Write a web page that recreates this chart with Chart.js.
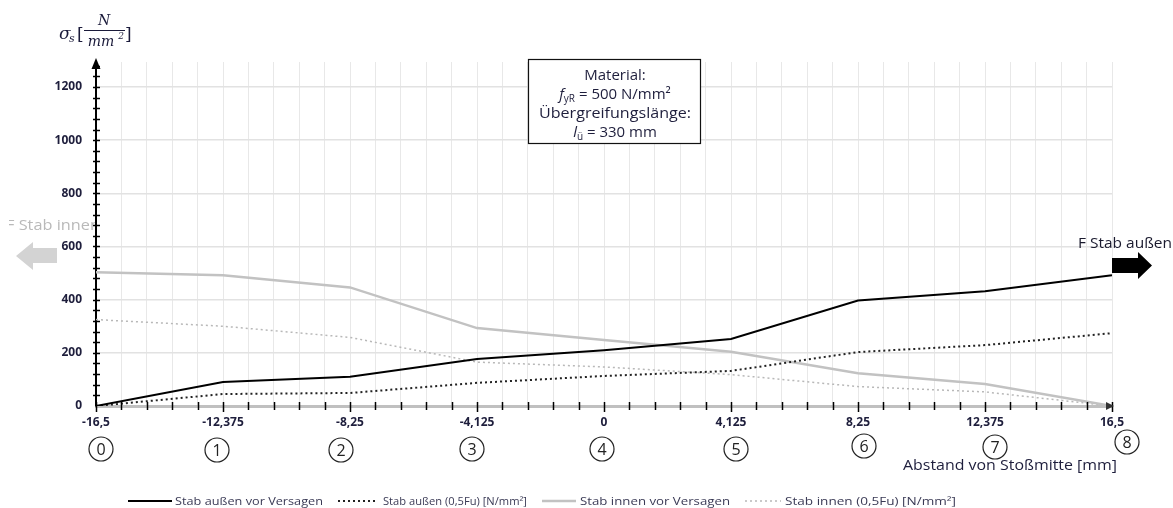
<!DOCTYPE html>
<html><head><meta charset="utf-8">
<script src="https://cdn.jsdelivr.net/npm/chart.js@4.4.0/dist/chart.umd.min.js"></script>
<style>html,body{margin:0;padding:0;background:#fff;overflow:hidden}#wrap{width:1173px;height:508px;position:relative}</style>
</head><body><div id="wrap"><canvas id="c" width="1173" height="508"></canvas></div>
<script>
// ---- data ----
const positions = [-16.5, -12.375, -8.25, -4.125, 0, 4.125, 8.25, 12.375, 16.5];
const pointNumbers = ['0', '1', '2', '3', '4', '5', '6', '7', '8'];
const outerFailure = [0, 90, 110, 177, 210, 252, 397, 432, 492];
const outerHalfFu = [0, 45, 49, 87, 113, 132, 203, 229, 274];
const innerFailure = [503, 492, 446, 293, 248, 204, 123, 83, 0];
const innerHalfFu = [325, 300, 258, 165, 147, 118, 73, 53, 0];
const yTickValues = [0, 200, 400, 600, 800, 1000, 1200];
const seriesNames = ['Stab außen vor Versagen', 'Stab außen (0,5Fu) [N/mm²]', 'Stab innen vor Versagen', 'Stab innen (0,5Fu) [N/mm²]'];
const xAxisTitle = 'Abstand von Stoßmitte [mm]';
const outerForceLabel = 'F Stab außen';
const innerForceLabel = 'F Stab innen';

// ---- styling constants ----
const circleDx = [5, -6, -9, -5, -2, 5, 6, 10, 15];
const circleY = [449, 450, 450, 449, 449, 449, 446, 447, 442];
const TXT = '#1e1e3c';

const fmt = v => String(v).replace('.', ',');
const toXY = arr => arr.map((v, i) => ({x: positions[i], y: v}));

function fitText(ctx, text, x, y, w, align) {
  const m = ctx.measureText(text).width;
  const sx = w / m;
  ctx.save();
  ctx.translate(x, y);
  ctx.scale(sx, 1);
  ctx.textAlign = 'left';
  let ox = 0;
  if (align === 'center') ox = -m / 2; else if (align === 'right') ox = -m;
  ctx.fillText(text, ox, 0);
  ctx.restore();
}

const decor = {
  id: 'decor',
  afterDraw(chart) {
    const ctx = chart.ctx;
    const xs = chart.scales.x, ys = chart.scales.y;
    const y0 = ys.getPixelForValue(0);
    const xl = xs.left;
    ctx.save();
    // minor ticks x
    ctx.strokeStyle = '#000'; ctx.lineWidth = 1.5;
    for (let i = 0; i <= 40; i++) {
      const px = Math.round(xs.getPixelForValue(-16.5 + i * 0.825)) + 0.5;
      const major = i % 5 === 0;
      ctx.beginPath(); ctx.moveTo(px, y0 - 4); ctx.lineTo(px, y0 + (major ? 6 : 4)); ctx.stroke();
    }
    // minor ticks y
    for (let v = 40; v <= 1280; v += 40) {
      const py = Math.round(ys.getPixelForValue(v)) + 0.5;
      ctx.beginPath(); ctx.moveTo(xl - 3, py); ctx.lineTo(xl + 4, py); ctx.stroke();
    }
    // y axis arrow
    ctx.fillStyle = '#000';
    ctx.beginPath(); ctx.moveTo(xl, 58); ctx.lineTo(xl - 4.5, 69); ctx.lineTo(xl + 4.5, 69); ctx.closePath(); ctx.fill();
    // x axis arrow
    const xr = xs.right;
    ctx.fillStyle = '#333';
    ctx.beginPath(); ctx.moveTo(xr + 2, y0); ctx.lineTo(xr - 6, y0 - 4); ctx.lineTo(xr - 6, y0 + 4); ctx.closePath(); ctx.fill();

    // circled numbers
    ctx.lineWidth = 1.2; ctx.strokeStyle = '#222';
    ctx.font = '16px "Open Sans"'; ctx.fillStyle = '#222'; ctx.textAlign = 'center'; ctx.textBaseline = 'middle';
    positions.forEach((p, i) => {
      const cx = xs.getPixelForValue(p) + circleDx[i];
      const cy = circleY[i];
      ctx.beginPath(); ctx.arc(cx, cy, 12, 0, Math.PI * 2); ctx.stroke();
      ctx.fillText(pointNumbers[i], cx, cy + 1);
    });

    // x axis title
    ctx.fillStyle = TXT; ctx.font = '14px "Open Sans"'; ctx.textBaseline = 'middle';
    fitText(ctx, xAxisTitle, 1117, 466, 214, 'right');

    // outer force arrow & label
    ctx.fillStyle = '#000';
    ctx.beginPath();
    ctx.moveTo(xr, 258); ctx.lineTo(1138, 258); ctx.lineTo(1138, 252); ctx.lineTo(1152, 265.5);
    ctx.lineTo(1138, 279); ctx.lineTo(1138, 273); ctx.lineTo(xr, 273); ctx.closePath(); ctx.fill();
    ctx.fillStyle = '#1a1a2e'; ctx.font = '14px "Open Sans"';
    fitText(ctx, outerForceLabel, 1078, 244, 94, 'left');

    // inner force arrow & label
    ctx.fillStyle = '#d3d3d3';
    ctx.beginPath();
    ctx.moveTo(57, 248); ctx.lineTo(33, 248); ctx.lineTo(33, 242); ctx.lineTo(16, 256);
    ctx.lineTo(33, 270); ctx.lineTo(33, 263); ctx.lineTo(57, 263); ctx.closePath(); ctx.fill();
    ctx.save();
    ctx.beginPath(); ctx.rect(9, 210, 86, 30); ctx.clip();
    ctx.fillStyle = '#b9b9b9'; ctx.font = '14px "Open Sans"';
    fitText(ctx, innerForceLabel, 100, 226, 94, 'right');
    ctx.restore();

    // annotation box
    ctx.fillStyle = '#fff'; ctx.fillRect(528.5, 59.5, 172, 84);
    ctx.strokeStyle = '#111'; ctx.lineWidth = 1.2; ctx.strokeRect(528.5, 59.5, 172, 84);
    ctx.fillStyle = TXT; ctx.textBaseline = 'alphabetic';
    const F = 15;
    ctx.font = F + 'px "Open Sans"'; ctx.textAlign = 'center';
    const cxB = 615;
    ctx.fillText('Material:', cxB, 80);
    fitText(ctx, 'Übergreifungslänge:', cxB, 118, 152, 'center');
    const drawSub = (lead, sub, rest, base) => {
      ctx.textAlign = 'left';
      ctx.font = 'italic ' + F + 'px "Open Sans"'; const w1 = ctx.measureText(lead).width;
      ctx.font = '10px "Open Sans"'; const w2 = ctx.measureText(sub).width;
      ctx.font = F + 'px "Open Sans"'; const w3 = ctx.measureText(rest).width;
      let x = cxB - (w1 + w2 + w3) / 2;
      ctx.font = 'italic ' + F + 'px "Open Sans"'; ctx.fillText(lead, x, base); x += w1;
      ctx.font = '10px "Open Sans"'; ctx.fillText(sub, x, base + 3); x += w2;
      ctx.font = F + 'px "Open Sans"'; ctx.fillText(rest, x, base);
    };
    drawSub('f', 'yR', ' = 500 N/mm²', 99);
    drawSub('l', 'ü', ' = 330 mm', 137);

    // y axis title: sigma_s [N/mm^2]
    ctx.fillStyle = '#1a1a3a'; ctx.textAlign = 'left';
    ctx.font = 'italic 17px "DejaVu Serif"'; ctx.fillText('σ', 59, 39);
    ctx.font = 'italic 11px "DejaVu Serif"'; ctx.fillText('s', 69, 42);
    ctx.font = '17px "DejaVu Serif"'; ctx.fillText('[', 77, 40); ctx.fillText(']', 125, 40);
    ctx.font = 'italic 14px "DejaVu Serif"'; ctx.textAlign = 'center'; ctx.fillText('N', 104, 25);
    ctx.fillRect(84, 30, 41, 1);
    ctx.font = 'italic 14px "DejaVu Serif"'; ctx.fillText('mm', 101, 46);
    ctx.font = 'italic 9px "DejaVu Serif"'; ctx.fillText('2', 121, 39);

    // legend
    const items = chart.data.datasets;
    const lx = [[128, 172, 175, 148], [338, 378, 383, 144], [542, 576, 580, 150], [745, 781, 785, 171]];
    ctx.font = '10px "Open Sans"'; ctx.textBaseline = 'middle';
    items.forEach((ds, i) => {
      const [a, b, t, w] = lx[i];
      ctx.strokeStyle = ds.borderColor; ctx.lineWidth = ds.borderWidth;
      ctx.setLineDash(ds.borderDash || []);
      ctx.beginPath(); ctx.moveTo(a, 501); ctx.lineTo(b, 501); ctx.stroke();
      ctx.setLineDash([]);
      ctx.fillStyle = '#3a3a55';
      fitText(ctx, ds.label, t, 502, w, 'left');
    });
    ctx.restore();
  }
};

new Chart(document.getElementById('c'), {
  type: 'line',
  data: {
    datasets: [
      {label: seriesNames[0], data: toXY(outerFailure), borderColor: '#000', borderWidth: 2, pointRadius: 0, tension: 0},
      {label: seriesNames[1], data: toXY(outerHalfFu), borderColor: '#222', borderWidth: 2, borderDash: [2, 3], pointRadius: 0, tension: 0},
      {label: seriesNames[2], data: toXY(innerFailure), borderColor: '#c2c2c2', borderWidth: 2.5, pointRadius: 0, tension: 0},
      {label: seriesNames[3], data: toXY(innerHalfFu), borderColor: '#b8b8b8', borderWidth: 1.5, borderDash: [2, 3], pointRadius: 0, tension: 0}
    ]
  },
  options: {
    responsive: false, animation: false,
    layout: {padding: {top: 62, right: 61, left: 0, bottom: 0}},
    plugins: {legend: {display: false}, tooltip: {enabled: false}},
    scales: {
      x: {
        type: 'linear', min: -16.5, max: 16.5,
        afterBuildTicks: s => { const t = []; for (let i = 0; i <= 40; i++) t.push({value: -16.5 + i * 0.825}); s.ticks = t; },
        afterFit: s => { s.height = 102; },
        ticks: {autoSkip: false, maxRotation: 0, minRotation: 0, padding: 9, color: TXT,
          font: {size: 12, weight: 'bold', family: '"Open Sans"'},
          callback: (v, i) => (i % 5 === 0 ? fmt(positions[i / 5]) : '')},
        grid: {color: '#e8e8e8', lineWidth: 1, drawTicks: false},
        border: {color: '#c0c0c0', width: 3}
      },
      y: {
        min: 0, max: 1294,
        afterBuildTicks: s => { s.ticks = yTickValues.map(v => ({value: v})); },
        afterFit: s => { s.width = 96; },
        ticks: {padding: 14, color: TXT, font: {size: 12, weight: 'bold', family: '"Open Sans"'},
          callback: v => String(v)},
        grid: {color: '#e2e2e2', lineWidth: 1.5, drawTicks: false},
        border: {color: '#000', width: 2}
      }
    }
  },
  plugins: [decor]
});
</script></body></html>
